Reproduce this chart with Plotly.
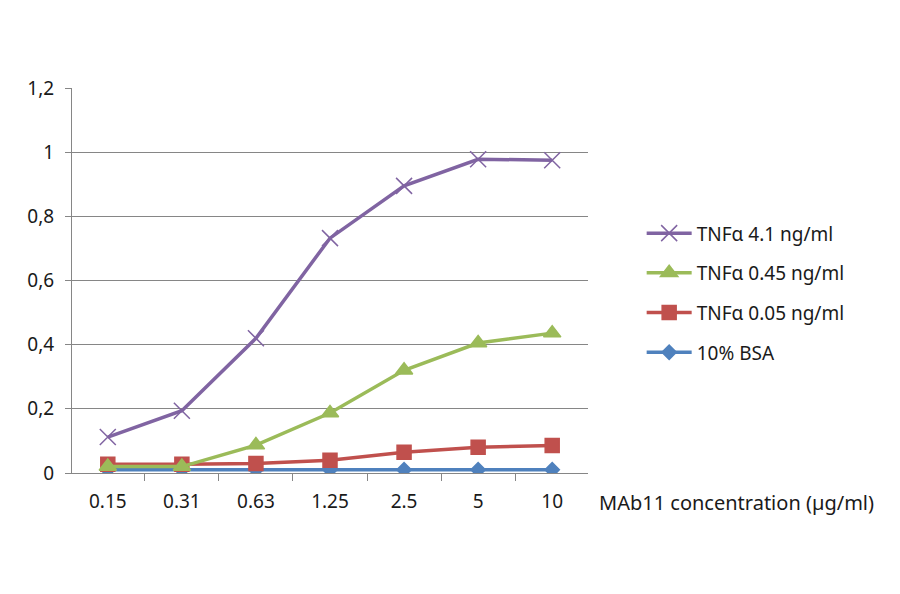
import plotly.graph_objects as go

concentrations = ["0.15", "0.31", "0.63", "1.25", "2.5", "5", "10"]

bsa = [0.010, 0.010, 0.010, 0.010, 0.010, 0.010, 0.010]
tnf_005 = [0.027, 0.027, 0.030, 0.040, 0.065, 0.080, 0.086]
tnf_045 = [0.020, 0.020, 0.087, 0.187, 0.320, 0.405, 0.436]
tnf_41 = [0.112, 0.194, 0.420, 0.732, 0.895, 0.978, 0.975]

y_ticks = [0, 0.2, 0.4, 0.6, 0.8, 1.0, 1.2]
y_labels = ["0", "0,2", "0,4", "0,6", "0,8", "1", "1,2"]

# drawn bottom-up, listed top-down in the legend
series = [
    ("10% BSA", bsa, "#4F81BD", "diamond", 11, 4),
    ("TNFα 0.05 ng/ml", tnf_005, "#C0504D", "square", 14, 3),
    ("TNFα 0.45 ng/ml", tnf_045, "#9BBB59", "triangle-up", 15, 2),
    ("TNFα 4.1 ng/ml", tnf_41, "#8064A2", "x-thin", 16, 1),
]

fig = go.Figure()
for name, vals, color, symbol, size, rank in series:
    fig.add_trace(go.Scatter(
        x=concentrations, y=vals, name=name, mode="lines+markers",
        legendgroup=name, legendrank=rank,
        line=dict(color=color, width=3.5),
        marker=dict(symbol=symbol, size=size, color=color,
                    line=dict(color=color, width=1.5)),
    ))

fig.update_layout(
    width=900, height=594,
    margin=dict(l=64, r=320, t=80, b=129),
    paper_bgcolor="white", plot_bgcolor="white",
    font=dict(family="Noto Sans", size=19, color="#1a1a1a"),
    showlegend=True,
    legend=dict(
        x=1.104, y=0.672, xanchor="left", yanchor="top",
        traceorder="grouped", tracegroupgap=12, itemwidth=45,
        font=dict(size=19, color="#1a1a1a"),
        bgcolor="rgba(0,0,0,0)",
    ),
)

fig.update_xaxes(
    type="category",
    showline=True, linecolor="#868686", linewidth=1,
    ticks="outside", tickson="boundaries", ticklen=7, tickcolor="#868686",
    showgrid=False, ticklabelstandoff=11,
)
fig.update_yaxes(
    range=[0, 1.2], tickvals=y_ticks, ticktext=y_labels,
    showline=True, linecolor="#868686", linewidth=1,
    ticks="outside", ticklen=6, tickcolor="#868686",
    showgrid=True, gridcolor="#868686", gridwidth=1,
    zeroline=False, ticklabelstandoff=7,
)

fig.add_annotation(
    text="MAb11 concentration (µg/ml)", xref="paper", yref="paper",
    x=1.017, y=-0.077, xanchor="left", yanchor="middle",
    showarrow=False, font=dict(size=20, color="#1a1a1a"),
)

fig.write_html("out.html")
